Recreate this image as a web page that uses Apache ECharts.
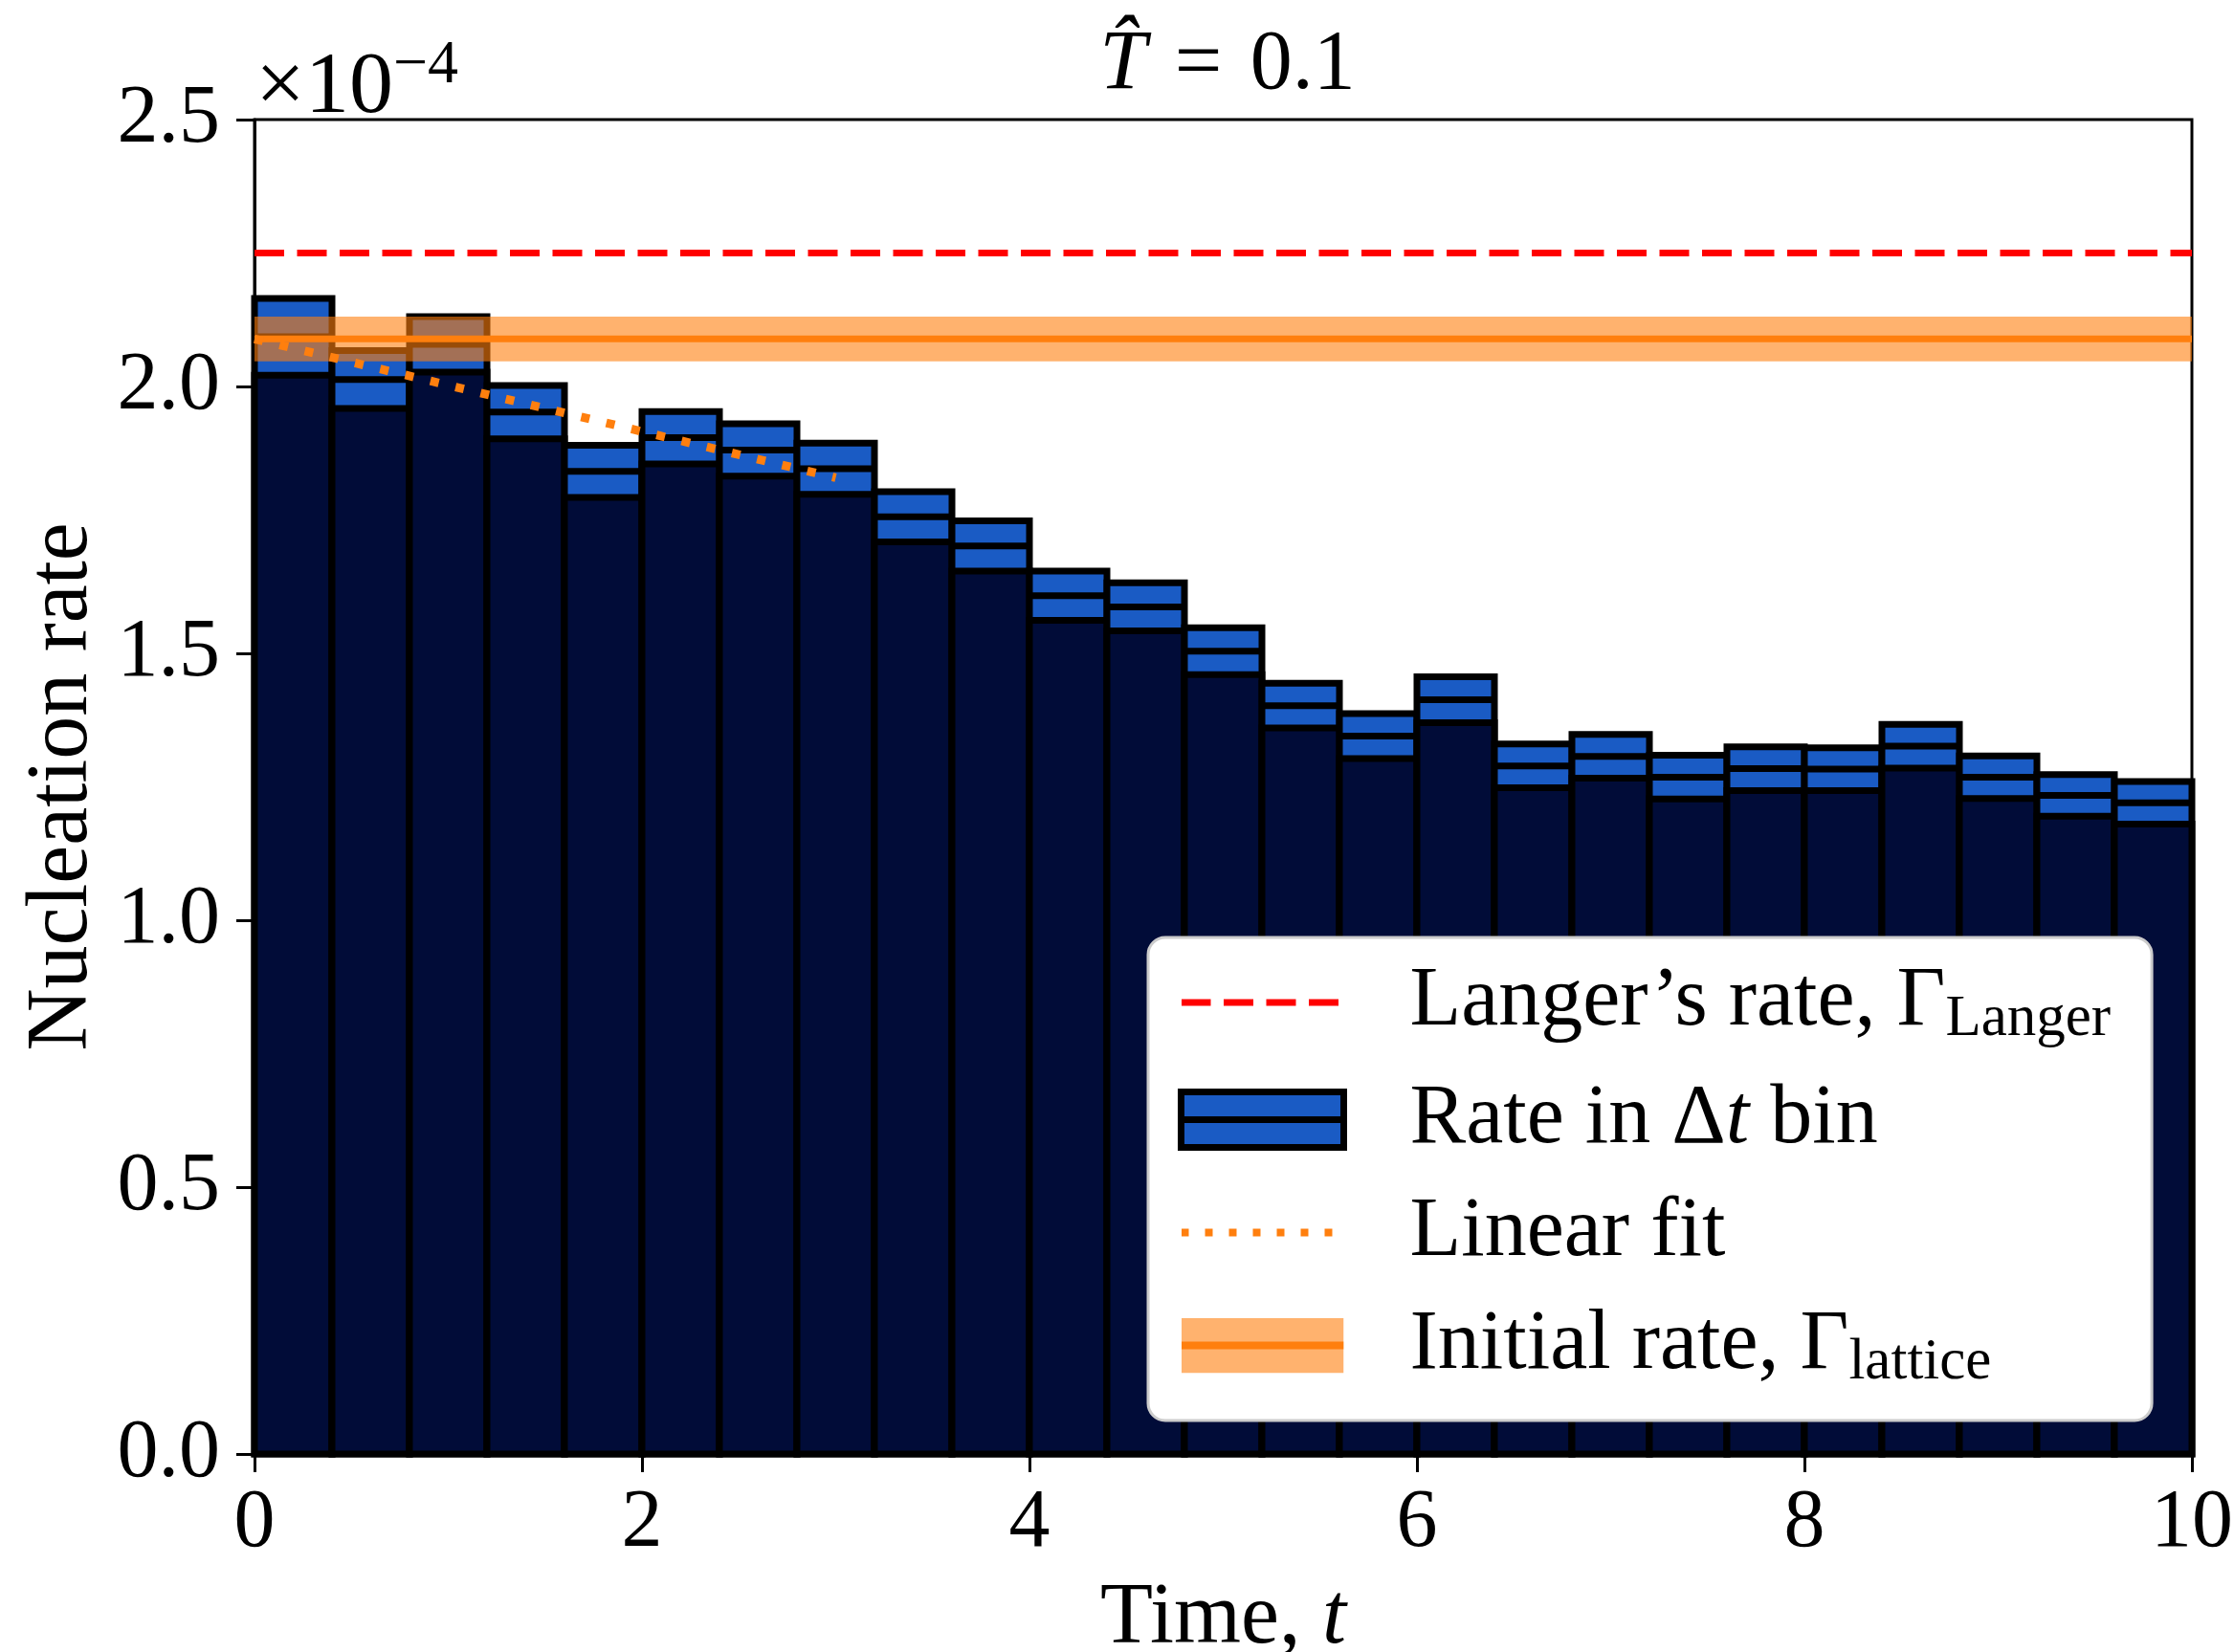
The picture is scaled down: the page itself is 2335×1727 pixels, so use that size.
<!DOCTYPE html>
<html>
<head>
<meta charset="utf-8">
<script src="https://cdn.jsdelivr.net/npm/echarts@6/dist/echarts.min.js"></script>
<style>
html, body { margin: 0; padding: 0; background: #fff; }
#main { width: 2335px; height: 1727px; }
</style>
</head>
<body>
<div id="main"></div>
<script>
// bin edges of the time histogram (width 0.4)
var binEdges = [0, 0.4, 0.8, 1.2, 1.6, 2.0, 2.4, 2.8, 3.2, 3.6, 4.0, 4.4, 4.8,
  5.2, 5.6, 6.0, 6.4, 6.8, 7.2, 7.6, 8.0, 8.4, 8.8, 9.2, 9.6, 10.0]
// rate in each bin (x 1e-4) and its error
var rateMean = [2.093, 2.013, 2.079, 1.952, 1.841, 1.904, 1.881, 1.846, 1.756, 1.701,
  1.608, 1.587, 1.504, 1.402, 1.345, 1.413, 1.289, 1.307, 1.268, 1.284,
  1.283, 1.326, 1.268, 1.234, 1.220]
var rateErr = [0.072, 0.054, 0.052, 0.050, 0.049, 0.049, 0.049, 0.048, 0.047, 0.047,
  0.046, 0.045, 0.044, 0.042, 0.042, 0.043, 0.041, 0.041, 0.041, 0.041,
  0.040, 0.041, 0.040, 0.039, 0.040]
var langerRate = 2.25
var initialRate = 2.089
var initialRateErr = 0.042
var fitTime = [0, 3.0]
var fitRate = [2.089, 1.829]
var timeRange = [0, 10]

var font = 'Liberation Serif'
var navy = '#010c38'
var blue = '#1a5bc4'
var orange = '#ff7f0e'

var binData = rateMean.map(function (m, i) {
  return [binEdges[i], binEdges[i + 1], m, rateErr[i]]
})

function renderBin(params, api) {
  var base = api.coord([api.value(0), 0])
  var hi = api.coord([api.value(1), api.value(2) + api.value(3)])
  var mid = api.coord([api.value(1), api.value(2)])
  var lo = api.coord([api.value(1), api.value(2) - api.value(3)])
  var w = hi[0] - base[0]
  return {
    type: 'group',
    children: [
      { type: 'rect', shape: { x: base[0], y: hi[1], width: w, height: base[1] - hi[1] },
        style: { fill: blue, stroke: '#000', lineWidth: 7 } },
      { type: 'rect', shape: { x: base[0], y: lo[1], width: w, height: base[1] - lo[1] },
        style: { fill: navy, stroke: '#000', lineWidth: 7 } },
      { type: 'line', shape: { x1: base[0], y1: mid[1], x2: base[0] + w, y2: mid[1] },
        style: { stroke: '#000', lineWidth: 7 } }
    ]
  }
}

function renderBand(params, api) {
  var p1 = api.coord([api.value(0), api.value(2) + api.value(3)])
  var p2 = api.coord([api.value(1), api.value(2) - api.value(3)])
  return {
    type: 'rect',
    shape: { x: p1[0], y: p1[1], width: p2[0] - p1[0], height: p2[1] - p1[1] },
    style: { fill: orange, opacity: 0.6 }
  }
}

// legend handles
function svgIcon(body) {
  var svg = "<svg xmlns='http://www.w3.org/2000/svg' width='170' height='58'>" + body + "</svg>"
  return 'image://data:image/svg+xml;charset=utf-8,' + encodeURIComponent(svg)
}
var langerIcon = svgIcon("<line x1='0' y1='29' x2='170' y2='29' stroke='#ff0000' stroke-width='7' stroke-dasharray='31 13.5'/>")
var fitIcon = svgIcon("<line x1='0' y1='29' x2='170' y2='29' stroke='#ff7f0e' stroke-width='8' stroke-dasharray='8 17'/>")
var bandIcon = svgIcon("<rect width='170' height='58' fill='#ff7f0e' fill-opacity='0.6'/>" +
  "<rect y='25' width='170' height='8' fill='#ff7f0e'/>")

var legendText = {
  'Langer': 'Langer\u2019s rate, \u0393{sub|Langer}',
  'Rate': 'Rate in \u0394{it|t} bin',
  'Linear fit': 'Linear fit',
  'Initial rate': 'Initial rate, \u0393{sub|lattice}'
}

var myChart = echarts.init(document.getElementById('main'))
myChart.setOption({
  animation: false,
  backgroundColor: '#fff',
  title: [
    {
      text: '{it|T\u0302}\u200a = \u200a0.1',
      left: 1278,
      top: 20,
      textAlign: 'center',
      textStyle: { fontFamily: font, fontSize: 88, fontWeight: 'normal', color: '#000',
        rich: { it: { fontFamily: font, fontSize: 88, fontStyle: 'italic', color: '#000' } } }
    },
    {
      text: '\u00d710{sup|\u22124}',
      left: 262,
      top: 32,
      textStyle: { fontFamily: font, fontSize: 92, fontWeight: 'normal', color: '#000',
        rich: { sup: { fontFamily: font, fontSize: 64, color: '#000', padding: [0, 0, 48, 0] } } }
    }
  ],
  grid: { left: 266, right: 44, top: 125, bottom: 207, outerBoundsMode: 'none',
    show: true, borderColor: '#000', borderWidth: 3 },
  legend: {
    orient: 'vertical',
    left: 1200,
    top: 980,
    padding: [24, 43, 30, 31],
    itemWidth: 170,
    itemHeight: 58,
    itemGap: 30,
    selectedMode: false,
    backgroundColor: '#fff',
    borderColor: '#cccccc',
    borderWidth: 3,
    borderRadius: 18,
    formatter: function (name) { return legendText[name] },
    textStyle: {
      fontFamily: font, fontSize: 88, color: '#000', lineHeight: 58, padding: [0, 0, 0, 64],
      rich: {
        sub: { fontFamily: font, fontSize: 61, color: '#000', padding: [36, 0, 0, 0] },
        it: { fontFamily: font, fontSize: 88, fontStyle: 'italic', color: '#000' }
      }
    },
    data: [
      { name: 'Langer', icon: langerIcon },
      { name: 'Rate', icon: 'path://M0,0H170V29H0Z M0,29H170V58H0Z',
        itemStyle: { color: blue, borderColor: '#000', borderWidth: 7 } },
      { name: 'Linear fit', icon: fitIcon },
      { name: 'Initial rate', icon: bandIcon }
    ]
  },
  xAxis: {
    type: 'value',
    min: 0,
    max: 10,
    interval: 2,
    name: 'Time, {it|t}',
    nameLocation: 'middle',
    nameGap: 128,
    nameTextStyle: { fontFamily: font, fontSize: 90, color: '#000',
      rich: { it: { fontFamily: font, fontSize: 90, fontStyle: 'italic', color: '#000' } } },
    axisLine: { lineStyle: { color: '#000', width: 3 } },
    axisTick: { length: 19, lineStyle: { color: '#000', width: 3 } },
    axisLabel: { fontFamily: font, fontSize: 86, color: '#000', margin: 30 },
    splitLine: { show: false }
  },
  yAxis: {
    type: 'value',
    min: 0,
    max: 2.5,
    interval: 0.5,
    name: 'Nucleation rate',
    nameLocation: 'middle',
    nameGap: 152,
    nameTextStyle: { fontFamily: font, fontSize: 90, color: '#000' },
    axisLine: { show: true, lineStyle: { color: '#000', width: 3 } },
    axisTick: { show: true, length: 19, lineStyle: { color: '#000', width: 3 } },
    axisLabel: { fontFamily: font, fontSize: 86, color: '#000', margin: 36,
      formatter: function (v) { return v.toFixed(1) } },
    splitLine: { show: false }
  },
  series: [
    {
      name: 'Rate',
      type: 'custom',
      renderItem: renderBin,
      encode: { x: [0, 1], y: 2 },
      itemStyle: { color: blue, borderColor: '#000', borderWidth: 7 },
      data: binData,
      z: 2
    },
    {
      name: 'band',
      type: 'custom',
      renderItem: renderBand,
      encode: { x: [0, 1], y: 2 },
      data: [[timeRange[0], timeRange[1], initialRate, initialRateErr]],
      z: 3
    },
    {
      name: 'Initial rate',
      type: 'line',
      symbol: 'none',
      lineStyle: { color: orange, width: 7 },
      itemStyle: { color: orange },
      data: [[timeRange[0], initialRate], [timeRange[1], initialRate]],
      z: 4
    },
    {
      name: 'Linear fit',
      type: 'line',
      symbol: 'none',
      lineStyle: { color: orange, width: 9, type: [9, 18], cap: 'butt' },
      itemStyle: { color: orange },
      data: fitTime.map(function (t, i) { return [t, fitRate[i]] }),
      z: 5
    },
    {
      name: 'Langer',
      type: 'line',
      symbol: 'none',
      lineStyle: { color: '#ff0000', width: 7, type: [31, 13.5] },
      itemStyle: { color: '#ff0000' },
      data: [[timeRange[0], langerRate], [timeRange[1], langerRate]],
      z: 5
    }
  ]
})
</script>
</body>
</html>
